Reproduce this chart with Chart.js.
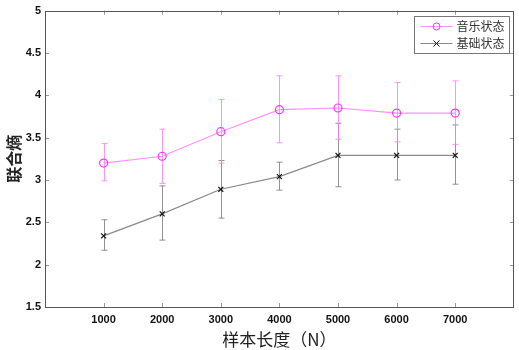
<!DOCTYPE html>
<html lang="zh">
<head>
<meta charset="UTF-8">
<script src="https://cdn.jsdelivr.net/npm/chart.js@4"></script>
<style>
  html, body { margin: 0; padding: 0; background: #fff; }
  #wrap { width: 519px; height: 350px; }
</style>
</head>
<body>
<div id="wrap"><canvas id="myChart"></canvas></div>
<script>
// 样本长度
const lengths = [1000, 2000, 3000, 4000, 5000, 6000, 7000];
// 音乐状态
const musicMean = [3.20, 3.28, 3.57, 3.83, 3.85, 3.79, 3.79];
const musicUpper = [3.43, 3.60, 3.95, 4.23, 4.23, 4.15, 4.17];
const musicLower = [2.99, 2.96, 3.20, 3.44, 3.48, 3.45, 3.42];
// 基础状态
const baseMean = [2.34, 2.60, 2.89, 3.04, 3.29, 3.29, 3.29];
const baseUpper = [2.53, 2.93, 3.23, 3.21, 3.67, 3.60, 3.65];
const baseLower = [2.17, 2.29, 2.55, 2.88, 2.92, 3.00, 2.95];
const yTicks = [1.5, 2, 2.5, 3, 3.5, 4, 4.5, 5];

const tickFont = { family: 'Liberation Sans, Arial', size: 11, weight: 'bold' };

function toPoints(ys) {
  return lengths.map((x, i) => ({ x: x, y: ys[i] }));
}

// 误差棒 + 内侧刻度 + 图例
const extras = {
  id: 'extras',
  beforeDatasetsDraw(chart) {
    const ctx = chart.ctx;
    const xs = chart.scales.x, ys = chart.scales.y;
    const bars = [
      { up: baseUpper, lo: baseLower, color: 'rgba(110,110,110,0.75)' },
      { up: musicUpper, lo: musicLower, color: 'rgba(255,120,255,0.8)' }
    ];
    ctx.save();
    ctx.lineWidth = 1;
    bars.forEach(b => {
      ctx.strokeStyle = b.color;
      lengths.forEach((v, i) => {
        const px = Math.round(xs.getPixelForValue(v)) + 0.5;
        const y1 = ys.getPixelForValue(b.up[i]);
        const y2 = ys.getPixelForValue(b.lo[i]);
        ctx.beginPath();
        ctx.moveTo(px, y1); ctx.lineTo(px, y2);
        ctx.moveTo(px - 3, y1); ctx.lineTo(px + 3, y1);
        ctx.moveTo(px - 3, y2); ctx.lineTo(px + 3, y2);
        ctx.stroke();
      });
    });
    ctx.restore();
  },
  afterDraw(chart) {
    const ctx = chart.ctx;
    const a = chart.chartArea;
    const xs = chart.scales.x, ys = chart.scales.y;
    ctx.save();
    ctx.strokeStyle = '#999';
    ctx.lineWidth = 1;
    ctx.beginPath();
    lengths.forEach(v => {
      const px = Math.round(xs.getPixelForValue(v)) + 0.5;
      ctx.moveTo(px, a.bottom); ctx.lineTo(px, a.bottom - 4);
      ctx.moveTo(px, a.top); ctx.lineTo(px, a.top + 4);
    });
    yTicks.forEach(v => {
      const py = Math.round(ys.getPixelForValue(v)) + 0.5;
      ctx.moveTo(a.left, py); ctx.lineTo(a.left + 4, py);
      ctx.moveTo(a.right, py); ctx.lineTo(a.right - 4, py);
    });
    ctx.stroke();
    // 边框
    ctx.strokeStyle = '#555';
    ctx.strokeRect(Math.round(a.left) + 0.5, Math.round(a.top) + 0.5,
                   Math.round(a.right - a.left) - 1, Math.round(a.bottom - a.top));

    // 图例
    const lx = 414.5, ly = 16.5, lw = 95, lh = 37;
    ctx.fillStyle = '#fff';
    ctx.fillRect(lx, ly, lw, lh);
    ctx.strokeStyle = '#777';
    ctx.strokeRect(lx, ly, lw, lh);
    chart.data.datasets.forEach((ds, i) => {
      const ry = ly + 10 + i * 17;
      ctx.strokeStyle = ds.borderColor;
      ctx.beginPath();
      ctx.moveTo(lx + 6, ry); ctx.lineTo(lx + 38, ry);
      ctx.stroke();
      ctx.strokeStyle = ds.pointBorderColor;
      ctx.beginPath();
      if (ds.pointStyle === 'circle') {
        ctx.arc(lx + 22, ry, 3.5, 0, Math.PI * 2);
      } else {
        ctx.moveTo(lx + 19, ry - 3); ctx.lineTo(lx + 25, ry + 3);
        ctx.moveTo(lx + 25, ry - 3); ctx.lineTo(lx + 19, ry + 3);
      }
      ctx.stroke();
      ctx.fillStyle = '#333';
      ctx.font = '12px "Noto Sans CJK SC"';
      ctx.textBaseline = 'middle';
      ctx.fillText(ds.label, lx + 42, ry);
    });
    ctx.restore();
  }
};

new Chart(document.getElementById('myChart'), {
  type: 'line',
  data: {
    datasets: [{
      label: '音乐状态',
      data: toPoints(musicMean),
      borderColor: '#ff90ff',
      borderWidth: 1.2,
      pointStyle: 'circle',
      pointRadius: 4,
      pointBorderColor: '#ff33ff',
      pointBackgroundColor: 'rgba(0,0,0,0)',
      pointBorderWidth: 1.2
    }, {
      label: '基础状态',
      data: toPoints(baseMean),
      borderColor: '#8a8a8a',
      borderWidth: 1.2,
      pointStyle: 'crossRot',
      pointRadius: 3.5,
      pointBorderColor: '#111',
      pointBorderWidth: 1.2
    }]
  },
  options: {
    responsive: true,
    maintainAspectRatio: false,
    animation: false,
    layout: { padding: { top: 10, right: 5, left: 4, bottom: 0 } },
    plugins: { legend: { display: false }, tooltip: { enabled: false } },
    scales: {
      x: {
        type: 'linear',
        min: 0, max: 8000,
        afterBuildTicks: s => { s.ticks = lengths.map(v => ({ value: v })); },
        afterFit: s => { s.height = 43; },
        grid: { display: false, drawTicks: false },
        border: { display: false },
        ticks: { color: '#111', font: tickFont, padding: 6, maxRotation: 0, callback: v => String(v) },
        title: {
          display: true, text: '样本长度（N）', color: '#222',
          font: { family: '"Noto Sans CJK SC"', size: 17 }, padding: { top: 0, bottom: 0 }
        }
      },
      y: {
        min: 1.5, max: 5,
        afterBuildTicks: s => { s.ticks = yTicks.map(v => ({ value: v })); },
        afterFit: s => { s.width = 41; },
        grid: { display: false, drawTicks: false },
        border: { display: false },
        ticks: { color: '#111', font: tickFont, padding: 4, callback: v => String(v) },
        title: {
          display: true, text: '联合熵', color: '#222',
          font: { family: '"Noto Sans CJK SC"', size: 16, weight: 'bold' }, padding: { top: 0, bottom: 0 }
        }
      }
    }
  },
  plugins: [extras]
});
</script>
</body>
</html>
